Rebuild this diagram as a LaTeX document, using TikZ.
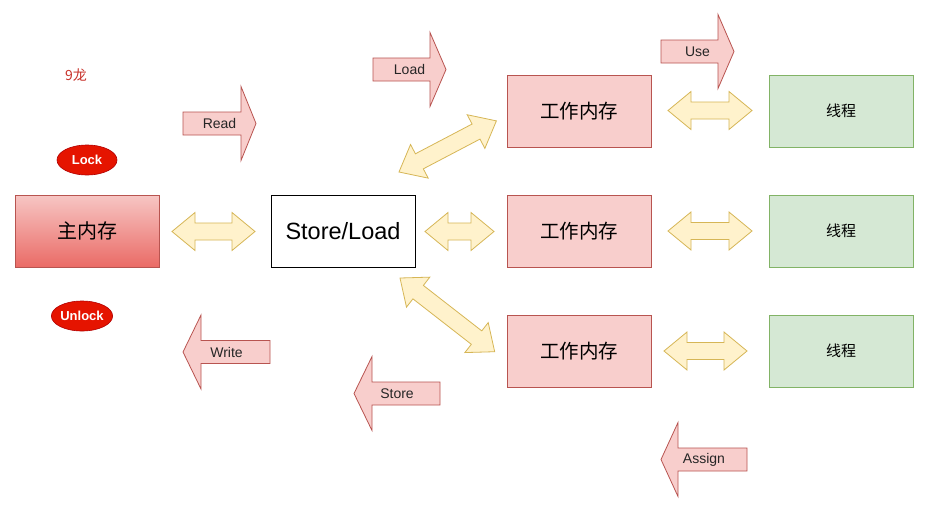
\documentclass[tikz,border=0pt]{standalone}
\usepackage{fontspec}
\setmainfont{Liberation Sans}
\newfontfamily\cjk{Noto Sans CJK SC}
\usetikzlibrary{shapes.geometric}
\definecolor{pinkfill}{HTML}{F8CECC}
\definecolor{pinkline}{HTML}{B85450}
\definecolor{yelfill}{HTML}{FFF2CC}
\definecolor{yelline}{HTML}{D6B656}
\definecolor{grnfill}{HTML}{D5E8D4}
\definecolor{grnline}{HTML}{82B366}
\definecolor{lockfill}{HTML}{E51400}
\definecolor{lockline}{HTML}{B20000}
\definecolor{gradbot}{HTML}{EA6B66}
\definecolor{gradtop}{HTML}{F7C6C4}
\definecolor{titlered}{HTML}{C8322A}
\tikzset{
  box/.style={draw, line width=0.8pt, minimum width=144pt, minimum height=72pt, inner sep=0pt},
  workbox/.style={box, fill=pinkfill, draw=pinkline, font=\cjk\fontsize{19.5}{22}\selectfont},
  threadbox/.style={box, fill=grnfill, draw=grnline, font=\cjk\fontsize{15}{17}\selectfont},
  lockell/.style={ellipse, fill=lockfill, draw=lockline, line width=0.6pt, minimum width=60pt, minimum height=30pt, inner sep=0pt, text=white, font=\bfseries\fontsize{13}{15}\selectfont},
  dblstyle/.style={fill=yelfill, draw=yelline, line width=0.8pt, line join=miter},
  sglstyle/.style={fill=pinkfill, draw=pinkline, line width=0.8pt, line join=miter},
  lbl/.style={font=\fontsize{14}{16}\selectfont, text=black!85, inner sep=0pt},
  pics/dblarrow/.style={code={
    \draw[dblstyle] (0,0) -- (23,-19) -- (23,-8.5) -- ({#1-23},-8.5) -- ({#1-23},-19) -- (#1,0)
      -- ({#1-23},19) -- ({#1-23},8.5) -- (23,8.5) -- (23,19) -- cycle;
  }},
  pics/sglright/.style n args={3}{code={
    \draw[sglstyle] (0,-11.5) -- (#1,-11.5) -- (#1,-37) -- ({#1+#2},0) -- (#1,37) -- (#1,11.5) -- (0,11.5) -- cycle;
    \node[lbl] (-lbl) at ({(#1+#2)/2},0) {#3};
  }},
  pics/sglleft/.style n args={3}{code={
    \draw[sglstyle] (0,-11.5) -- (-#1,-11.5) -- (-#1,-37) -- ({-#1-#2},0) -- (-#1,37) -- (-#1,11.5) -- (0,11.5) -- cycle;
    \node[lbl] (-lbl) at ({-(#1+#2)/2},0) {#3};
  }},
}
\begin{document}
\begin{tikzpicture}[x=1pt,y=-1pt]
\useasboundingbox[fill=white] (0,0) rectangle (929,512);

% title
\node[text=titlered, font=\cjk\fontsize{14}{16}\selectfont, inner sep=0pt] (title) at (76,75) {9龙};

% lock / unlock
\node[lockell] (lock) at (87,160) {Lock};
\node[lockell] (unlock) at (82,316) {Unlock};

% main memory
\node[box, draw=pinkline, top color=gradtop, bottom color=gradbot, font=\cjk\fontsize{20}{22}\selectfont] (main) at (87.5,231) {主内存};

% store/load
\node[box, draw=black, fill=white, font=\fontsize{23.5}{26}\selectfont] (sl) at (343,231) {Store/Load};

% working memories
\node[workbox] (w1) at (579,111) {工作内存};
\node[workbox] (w2) at (579,231) {工作内存};
\node[workbox] (w3) at (579,351) {工作内存};

% threads
\node[threadbox] (t1) at (841,111) {线程};
\node[threadbox] (t2) at (841,231) {线程};
\node[threadbox] (t3) at (841,351) {线程};

% double arrows
\pic at (172,231.5) {dblarrow=83};
\pic at (425,231.5) {dblarrow=69};
\pic[rotate=27.7] at (399,172) {dblarrow=110};
\pic[rotate=-37.9] at (400,278) {dblarrow=120};
\pic at (668,110.5) {dblarrow=84};
\pic at (668,231) {dblarrow=84};
\pic at (664,351) {dblarrow=83};

% single arrows
\pic (read) at (183,123.5) {sglright={58}{15}{Read}};
\pic (load) at (373,69.5) {sglright={57}{16}{Load}};
\pic (use) at (661,51.5) {sglright={57}{16}{Use}};
\pic (write) at (270,352) {sglleft={69}{18}{Write}};
\pic (store) at (440,393.5) {sglleft={68}{18}{Store}};
\pic (assign) at (747,459.5) {sglleft={69}{17}{Assign}};
\end{tikzpicture}
\end{document}
